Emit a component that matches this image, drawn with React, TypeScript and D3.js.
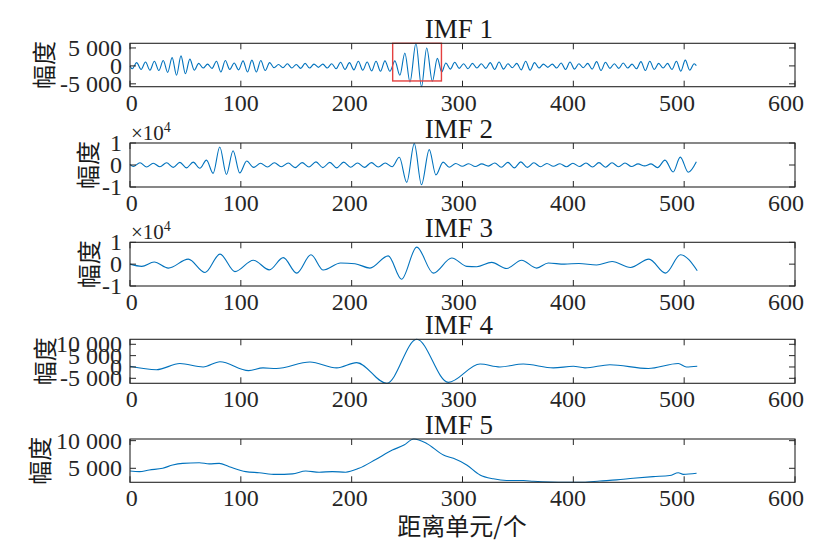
import React from 'react';
import * as d3 from 'd3';

// ---- data (range cell index, amplitude) ----
const imf1: [number, number][] = [
  [0, 0],
  [2, -800], [6, 900], [10, -1000], [14, 1100], [18, -1200], [22, 1300], [26, -1300], [30, 1500],
  [34, -1800], [38, 2300], [42, -2600], [46, 2800], [50, -2200], [54, 1900],
  [58, -1200], [62, 700], [66, -600], [70, 500], [74, -700],
  [78, 1300], [82, -1700], [86, 1500], [90, -1000], [94, 800],
  [98, -1100], [102, 1400], [106, -1700], [110, 1600], [114, -1700], [118, 1500], [122, -1300], [126, 900],
  [130, -500], [134, 400], [138, -500], [142, 600], [146, -600], [150, 400], [154, -700], [158, 700],
  [162, -600], [166, 500], [170, -400], [174, 500], [178, -600], [182, 600],
  [186, -800], [190, 1000], [194, -1000], [198, 900], [202, -1100], [206, 1300], [210, -1200], [214, 1100],
  [218, -1400], [222, 1300], [226, -1500], [230, 1400],
  [234.5, -1500], [239, 1400], [243.5, -2600], [248, 3600], [252.6, -4500], [258, 6300], [263, -5800],
  [267.7, 5000], [272.8, -4300], [277.3, 2100], [281.2, -1700],
  [285, 800], [289, -900], [293, 1000], [297, -700], [301, 600], [305, -800], [309, 700], [313, -600],
  [317, 600], [321, -700], [325, 900], [329, -1000], [333, 1100], [337, -900], [341, 600], [345, -500],
  [349, 700], [353, -1100], [357, 1300], [361, -1200], [365, 900], [369, -600], [373, 500], [377, -400],
  [381, 500], [385, -600], [389, 800], [393, -1000], [397, 1100], [401, -900], [405, 600], [409, -500],
  [413, 700], [417, -900], [421, 1200], [425, -1300], [429, 1000], [433, -700], [437, 600], [441, -700],
  [445, 800], [449, -600], [453, 500], [457, -800], [461, 1200], [465, -1300], [469, 1300], [473, -1000],
  [477, 700], [481, -600], [485, 700], [489, -1000], [493, 1300], [497, -1500], [501, 1600], [505, -1200],
  [509, 600], [511, 100],
];

const imf2: [number, number][] = [
  [0, 300], [3, -700], [9, 1000], [15, -900], [21, 800], [27, -800], [33, 1000], [39, -1100],
  [45, 1200], [51, -1300], [57, 1300], [63, -1500], [69, 2200], [75, -3800], [81, 8200], [87, -4300],
  [93, 6500], [99, -3600],
  [105.3, 1800], [111.5, -1100], [117.8, 800], [124, -900], [130.3, 1000], [136.5, -800], [142.8, 900],
  [149, -1200], [155.3, 1100], [161.5, -900], [167.8, 1400], [174, -1200], [180.3, 1200], [186.5, -1300],
  [192.8, 1300], [199, -1000], [205.3, 900], [211.5, -1100], [217.8, 1100], [224, -900], [230.3, 900],
  [236.5, -800],
  [243, 3500], [249.7, -7900], [256.5, 9700], [263, -9000], [270, 7000], [276, -4500], [282.5, 1300], [288, -1000],
  [293.9, 700], [299.8, -600], [305.6, 600], [311.5, -700], [317.4, 500], [323.3, -500], [329.1, 900],
  [335, -1000], [340.9, 1200], [346.8, -1300], [352.6, 1400], [358.5, -1100], [364.4, 1000], [370.3, -800],
  [376.1, 700], [382, -600], [387.9, 600], [393.8, -800], [399.6, 800], [405.5, -700], [411.4, 900],
  [417.3, -900], [423.1, 1100], [429, -1000], [434.9, 1000], [440.8, -800], [446.6, 900], [452.5, -700],
  [458.4, 500], [464.3, -400], [470.1, 500], [476, -1200], [482.7, 2200], [490, -3200], [496.5, 3600],
  [503.7, -3300], [511, 1500],
];

const imf3: [number, number][] = [
  [0, 0], [10.6, -1000], [21.8, 1000], [34.6, -1800], [52.6, 2300], [67.7, -3800], [81.2, 4600],
  [94.7, -3400], [111.3, 1800], [125.7, -2600], [138.3, 3000], [150.4, -4100], [163.3, 4300],
  [174.4, -2700], [190, 500], [203, 200], [216.5, -1800], [233, 3800], [245, -6900], [258.7, 7800],
  [273.7, -4100], [290.3, 2800], [303.8, -1000], [312.8, -1200], [326.3, 800], [339.8, -2000],
  [353.3, 1800], [366.9, -1800], [377.4, 500], [392, 0], [405, 300], [421, -400], [435, 1200],
  [451.6, -1500], [468.2, 2300], [483.2, -4100], [496.7, 4300], [511.8, -3000],
];

const imf4: [number, number][] = [
  [0, 300], [23.9, -1200], [45, 1500], [66, 0], [81.2, 2300], [107, -1600], [120, -400], [132, -700],
  [162.4, 2200], [186.5, -400], [204.5, 1900], [231.6, -7200], [258.7, 12200], [287.2, -6800],
  [315.8, 1300], [333.8, 0], [354.9, 1300], [382, -400], [400, 300], [410.5, -400], [433, 1000],
  [467.6, -700], [494.7, 1500], [502, 0], [511.8, 300],
];

const imf5: [number, number][] = [
  [0, 4520], [8.4, 4400], [17.4, 4700], [29.5, 5000], [38.5, 5600], [47.5, 5900], [62.5, 6000],
  [71.5, 5800], [80.5, 5900], [89.5, 5300], [104.5, 4400], [116.5, 4200], [131.5, 3900], [146.6, 4000],
  [158.6, 4500], [170.6, 4300], [182.6, 4400], [194.6, 4300], [206.6, 5000], [221.7, 6600],
  [236.7, 8300], [247.2, 9200], [256, 10300], [267.7, 9500], [282.8, 7400], [291.8, 6800],
  [303.8, 5600], [315.8, 3800], [327.8, 3100], [339.8, 2800], [354.9, 2800], [363.9, 2650],
  [378.9, 2500], [393.9, 2470], [408.9, 2470], [424, 2700], [439, 2900], [454, 3200], [472, 3500],
  [487, 3700], [494.7, 4200], [499.2, 3900], [511.2, 4100],
];

const titles = ['IMF 1', 'IMF 2', 'IMF 3', 'IMF 4', 'IMF 5'];
const xTicks = [0, 100, 200, 300, 400, 500, 600];
const yTicks1 = [-5000, 0, 5000];
const yTicks2 = [-10000, 0, 10000];
const yTicks3 = [-10000, 0, 10000];
const yTicks4 = [-5000, 0, 5000, 10000];
const yTicks5 = [5000, 10000];
const yLabel = '幅度';
const xLabel = '距离单元/个';
const expBase = '×10';
const expPower = '4';
const highlightX = [237, 281];
const highlightY = [-4200, 6300];

// ---- layout / style ----
const series = [imf1, imf2, imf3, imf4, imf5];
const yTickSets = [yTicks1, yTicks2, yTicks3, yTicks4, yTicks5];
const labelDivisor = [1, 10000, 10000, 1, 1];
const fixedDomain: (null | [number, number])[] = [null, [-10000, 10000], [-10000, 10000], null, null];
const panelTop = [43.3, 143, 242.3, 339.3, 439];
const panelBottom = [86.7, 187, 286, 383.3, 482.3];
const yLabelX = [42, 86, 87, 43, 38];
const LEFT = 130;
const RIGHT = 795;
const AXIS = '#262626';
const LINE = '#0072BD';
const SERIF = "'Liberation Serif', 'Times New Roman', serif";
const CJK = "'Noto Sans CJK SC', 'Noto Sans CJK JP', sans-serif";

function fmt(v: number): string {
  const s = Math.abs(v).toString().replace(/\B(?=(\d{3})+(?!\d))/g, ' ');
  return (v < 0 ? '-' : '') + s;
}

function Panel({ i }: { i: number }) {
  const data = series[i];
  const top = panelTop[i];
  const bottom = panelBottom[i];
  const x = d3.scaleLinear().domain([0, 600]).range([LEFT, RIGHT]);
  const xText = d3.scaleLinear().domain([0, 600]).range([131.7, 786]);
  const ext = d3.extent(data, (d) => d[1]) as [number, number];
  const dom = fixedDomain[i] ?? ext;
  const y = d3.scaleLinear().domain(dom).range([bottom, top]);
  const line = d3
    .line<[number, number]>()
    .x((d) => x(d[0]))
    .y((d) => y(d[1]))
    .curve(d3.curveMonotoneX);
  const tl = 6;
  const cy = (top + bottom) / 2;
  return (
    <g>
      <text x={xText(300)} y={top - 5} textAnchor="middle" fontSize={27} fill="#1a1a1a" fontFamily={SERIF}>
        {titles[i]}
      </text>
      <path d={line(data) ?? ''} fill="none" stroke={LINE} strokeWidth={1.1} />
      {i === 0 && (
        <rect
          x={x(highlightX[0])}
          y={y(highlightY[1])}
          width={x(highlightX[1]) - x(highlightX[0])}
          height={y(highlightY[0]) - y(highlightY[1])}
          fill="none"
          stroke="#e4403f"
          strokeWidth={1.4}
        />
      )}
      <rect x={LEFT} y={top} width={RIGHT - LEFT} height={bottom - top} fill="none" stroke={AXIS} strokeWidth={1.1} />
      {xTicks.map((t) => (
        <g key={'xt' + t}>
          <line x1={x(t)} x2={x(t)} y1={bottom} y2={bottom - tl} stroke={AXIS} strokeWidth={1} />
          <line x1={x(t)} x2={x(t)} y1={top} y2={top + tl} stroke={AXIS} strokeWidth={1} />
          <text x={xText(t)} y={bottom + 24} textAnchor="middle" fontSize={24} fill={AXIS} fontFamily={SERIF}>
            {t}
          </text>
        </g>
      ))}
      {yTickSets[i].map((t) => (
        <g key={'yt' + t}>
          <line x1={LEFT} x2={LEFT + tl} y1={y(t)} y2={y(t)} stroke={AXIS} strokeWidth={1} />
          <line x1={RIGHT} x2={RIGHT - tl} y1={y(t)} y2={y(t)} stroke={AXIS} strokeWidth={1} />
          <text x={122} y={y(t) + 8} textAnchor="end" fontSize={24} fill={AXIS} fontFamily={SERIF}>
            {fmt(t / labelDivisor[i])}
          </text>
        </g>
      ))}
      {labelDivisor[i] !== 1 && (
        <text x={131} y={top - 3} fontSize={21} fill={AXIS} fontFamily={SERIF}>
          {expBase}
          <tspan dy={-8} fontSize={14}>
            {expPower}
          </tspan>
        </text>
      )}
      <text
        transform={`translate(${yLabelX[i]},${cy}) rotate(-90)`}
        textAnchor="middle"
        dominantBaseline="central"
        fontSize={24}
        fill="#1a1a1a"
        fontFamily={CJK}
      >
        {yLabel}
      </text>
    </g>
  );
}

export default function App() {
  return (
    <svg
      width={826}
      height={560}
      style={{ position: 'absolute', left: 0, top: 0, background: '#fff' }}
    >
      <rect width={826} height={560} fill="#fff" />
      {series.map((_, i) => (
        <Panel key={i} i={i} />
      ))}
      <text x={462} y={535} textAnchor="middle" fontSize={24} fill="#1a1a1a" fontFamily={CJK}>
        {xLabel}
      </text>
    </svg>
  );
}
